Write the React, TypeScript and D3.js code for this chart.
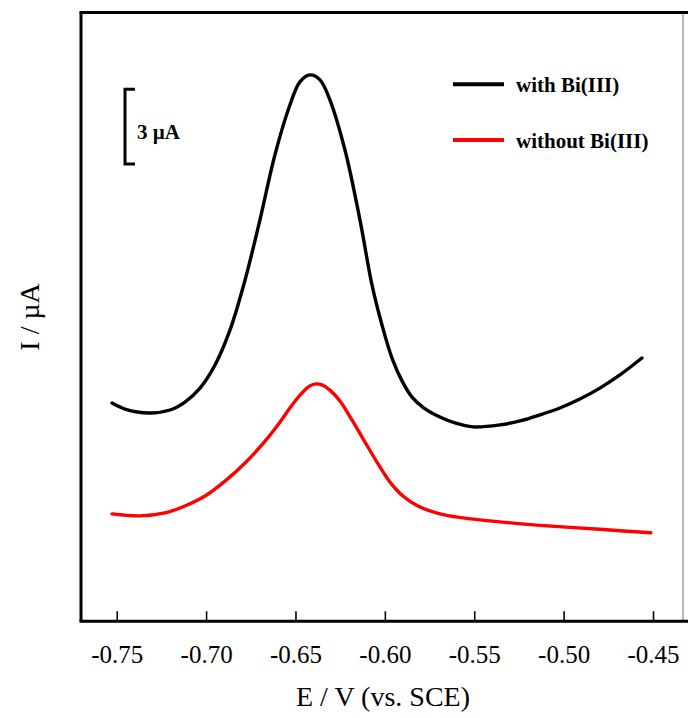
import { useEffect, useRef } from "react";
import * as d3 from "d3";

// potential (V vs. SCE) and current (µA, arbitrary offset)
const withBiE = [
  -0.7526, -0.7454, -0.7319, -0.7202, -0.7118, -0.7034, -0.695, -0.6866, -0.6782,
  -0.6699, -0.6615, -0.6531, -0.6475, -0.6419, -0.6363, -0.6307, -0.6223, -0.6139,
  -0.6072, -0.6016, -0.596, -0.5904, -0.5848, -0.5781, -0.5692, -0.5608, -0.5507,
  -0.5356, -0.5244, -0.5133, -0.5021, -0.4909, -0.4797, -0.4685, -0.4562,
];
const withBiI = [
  8.78, 8.54, 8.38, 8.5, 8.82, 9.38, 10.31, 11.72, 13.73, 16.14, 18.76, 20.77, 21.7,
  21.98, 21.78, 20.97, 18.96, 16.14, 13.53, 11.92, 10.59, 9.67, 9.02, 8.58, 8.22, 7.98,
  7.82, 7.9, 8.06, 8.3, 8.58, 8.94, 9.38, 9.91, 10.59,
];
const withoutBiE = [
  -0.7526, -0.737, -0.723, -0.7118, -0.7006, -0.6894, -0.6782, -0.667, -0.6586,
  -0.6519, -0.6463, -0.6419, -0.6385, -0.6352, -0.6307, -0.6251, -0.6184, -0.6111,
  -0.6038, -0.5971, -0.5899, -0.5815, -0.5692, -0.5563, -0.5356, -0.5133, -0.4797,
  -0.4512,
];
const withoutBiI = [
  4.32, 4.24, 4.36, 4.64, 5.04, 5.64, 6.37, 7.25, 8.02, 8.7, 9.19, 9.47, 9.55, 9.51,
  9.3, 8.86, 8.1, 7.21, 6.33, 5.6, 5.04, 4.64, 4.32, 4.16, 4.0, 3.86, 3.7, 3.56,
];
const xTicks = [-0.75, -0.7, -0.65, -0.6, -0.55, -0.5, -0.45];
const seriesNames = ["with Bi(III)", "without Bi(III)"];
const seriesColors = ["#000000", "#ff0000"];
const scaleBarValue = 3;

const W = 688;
const H = 718;
const FONT = "'Liberation Serif', 'Times New Roman', serif";

export default function App() {
  const ref = useRef<SVGSVGElement>(null);

  useEffect(() => {
    const svg = d3.select(ref.current);
    svg.selectAll("*").remove();

    const left = 81;
    const right = 683;
    const top = 12.5;
    const bottom = 621.3;

    const x = d3.scaleLinear().domain([-0.75, -0.45]).range([116.7, 653]);
    const y = d3.scaleLinear().domain([0, 24.49]).range([bottom, top]);

    // frame
    svg.append("line").attr("x1", right).attr("x2", right).attr("y1", top).attr("y2", bottom)
      .attr("stroke", "#888").attr("stroke-width", 1.2);
    svg.append("line").attr("x1", left - 1.5).attr("x2", W).attr("y1", top).attr("y2", top)
      .attr("stroke", "#000").attr("stroke-width", 3);
    svg.append("line").attr("x1", left).attr("x2", left).attr("y1", top).attr("y2", bottom)
      .attr("stroke", "#000").attr("stroke-width", 3);

    // x axis
    const xAxis = d3.axisBottom(x).tickValues(xTicks).tickSizeInner(-10).tickSizeOuter(0)
      .tickPadding(24).tickFormat(d3.format(".2f"));
    const gx = svg.append("g").attr("transform", `translate(0,${bottom})`).call(xAxis);
    gx.select(".domain").remove();
    gx.selectAll(".tick line").attr("stroke", "#000").attr("stroke-width", 1.6);
    gx.selectAll(".tick text")
      .attr("font-family", FONT).attr("font-size", 25).attr("fill", "#000")
      .text((d) => d3.format(".2f")(d as number).replace("−", "-"));
    svg.append("line").attr("x1", left - 1.5).attr("x2", W).attr("y1", bottom).attr("y2", bottom)
      .attr("stroke", "#000").attr("stroke-width", 3);

    // axis titles
    svg.append("text").attr("x", 383).attr("y", 706).attr("text-anchor", "middle")
      .attr("font-family", FONT).attr("font-size", 28).text("E / V (vs. SCE)");
    svg.append("text").attr("transform", `translate(39,${(top + bottom) / 2}) rotate(-90)`)
      .attr("text-anchor", "middle").attr("font-family", FONT).attr("font-size", 28)
      .text("I / µA");

    // curves
    const line = d3.line<[number, number]>()
      .x((d) => x(d[0])).y((d) => y(d[1])).curve(d3.curveCatmullRom.alpha(0.5));
    const series = [
      withBiE.map((e, i) => [e, withBiI[i]] as [number, number]),
      withoutBiE.map((e, i) => [e, withoutBiI[i]] as [number, number]),
    ];
    series.forEach((pts, i) => {
      svg.append("path").attr("d", line(pts)).attr("fill", "none")
        .attr("stroke", seriesColors[i]).attr("stroke-width", 3.4)
        .attr("stroke-linecap", "round").attr("stroke-linejoin", "round");
    });

    // scale bar
    const barTop = 89.3;
    const barBottom = barTop + (y(0) - y(scaleBarValue));
    svg.append("path")
      .attr("d", `M135,${barTop}H125V${barBottom}H135`)
      .attr("fill", "none").attr("stroke", "#000").attr("stroke-width", 3);
    svg.append("text").attr("x", 137).attr("y", 138.5)
      .attr("font-family", FONT).attr("font-size", 21).attr("font-weight", "bold")
      .text(`${scaleBarValue} µA`);

    // legend
    const legend = svg.append("g").selectAll("g").data(seriesNames).enter().append("g")
      .attr("transform", (_, i) => `translate(0,${84.3 + i * 55.7})`);
    legend.append("line").attr("x1", 453).attr("x2", 504).attr("y1", 0).attr("y2", 0)
      .attr("stroke", (_, i) => seriesColors[i]).attr("stroke-width", 4);
    legend.append("text").attr("x", 516).attr("y", 8)
      .attr("font-family", FONT).attr("font-size", 21).attr("font-weight", "bold")
      .text((d) => d);
  }, []);

  return (
    <svg
      ref={ref}
      width={W}
      height={H}
      style={{ position: "absolute", left: 0, top: 0, background: "#fff" }}
    />
  );
}
